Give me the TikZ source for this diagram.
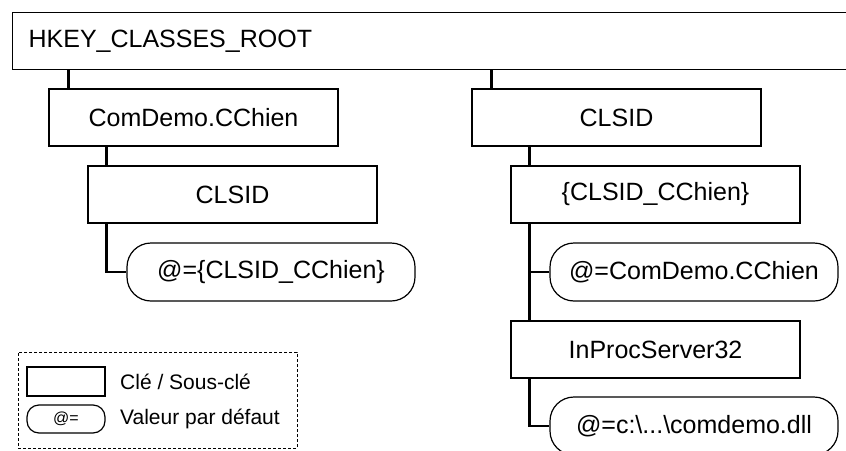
\documentclass[tikz,border=0pt]{standalone}
\usepackage{fontspec}
\setmainfont{Liberation Sans}
\begin{document}
\begin{tikzpicture}[x=1pt,y=-1pt,
  keybox/.style={draw, line width=1.2pt, rectangle, inner sep=0pt,
    minimum width=289pt, minimum height=57pt, font=\fontsize{25}{30}\selectfont},
  valbox/.style={draw, line width=1.2pt, rectangle, rounded corners=24pt, inner sep=0pt,
    minimum width=288pt, minimum height=58pt, font=\fontsize{25}{30}\selectfont},
  conn/.style={line width=2.2pt},
  legtext/.style={anchor=west, inner sep=0pt, font=\fontsize{21}{25}\selectfont}]
\clip (0,0) rectangle (846,450);

% registry root, running off the right edge
\node[draw, line width=1.2pt, anchor=north west, inner xsep=16pt, inner ysep=0pt,
  minimum height=57pt, text width=826pt, align=left,
  font=\fontsize{25}{30}\selectfont] (root) at (12,12) {HKEY\_CLASSES\_ROOT};

% left branch: ProgID
\node[keybox] (cdm)  at (193.5,117.5) {ComDemo.CChien};
\node[keybox] (cls1) at (232.5,194.5) {CLSID};
\node[valbox] (pv1)  at (271,272) {@=\{CLSID\_CChien\}};

% right branch: CLSID
\node[keybox] (cls2) at (616.5,117.5) {CLSID};
\node[keybox] (cid)  at (655.5,194.5) {\{CLSID\_CChien\}};
\node[valbox] (pv2)  at (694,272) {@=ComDemo.CChien};
\node[keybox] (inp)  at (655.5,349.5) {InProcServer32};
\node[valbox] (pv3)  at (694,426) {@=c:\textbackslash...\textbackslash comdemo.dll};

% connector anchor points, a little inside each parent's left edge
\path (cdm.north west)  ++(20,0) coordinate (c1);
\path (cls1.north west) ++(19,0) coordinate (c2);
\path (cls2.north west) ++(20,0) coordinate (c3);
\path (cid.north west)  ++(19,0) coordinate (c4);
\path (inp.north west)  ++(19,0) coordinate (c5);

\draw[conn] (c1) -- (c1 |- root.south);
\draw[conn] (c2) -- (c2 |- cdm.south);
\draw[conn] (c2 |- cls1.south) |- (pv1.west);
\draw[conn] (c3) -- (c3 |- root.south);
\draw[conn] (c4) -- (c4 |- cls2.south);
\draw[conn] (c4 |- cid.south) -- (c5);
\draw[conn] (c4 |- pv2.west) -- (pv2.west);
\draw[conn] (c5 |- inp.south) |- (pv3.west);

% legend
\node[draw, dashed, dash pattern=on 3pt off 2pt, line width=1pt, inner sep=0pt,
  minimum width=279pt, minimum height=96pt] (leg) at (157.5,400) {};
\node[draw, line width=1.2pt, inner sep=0pt, minimum width=78pt, minimum height=29pt]
  (lk) at (66,381.5) {};
\node[draw, line width=1.2pt, rounded corners=12pt, inner sep=0pt, minimum width=78pt,
  minimum height=28pt, font=\fontsize{16}{19}\selectfont] (lv) at (66,419) {@=};
\node[legtext] (lkt) at (120,382) {Clé / Sous-clé};
\node[legtext] (lvt) at (120,419) {Valeur par défaut};
\end{tikzpicture}
\end{document}
